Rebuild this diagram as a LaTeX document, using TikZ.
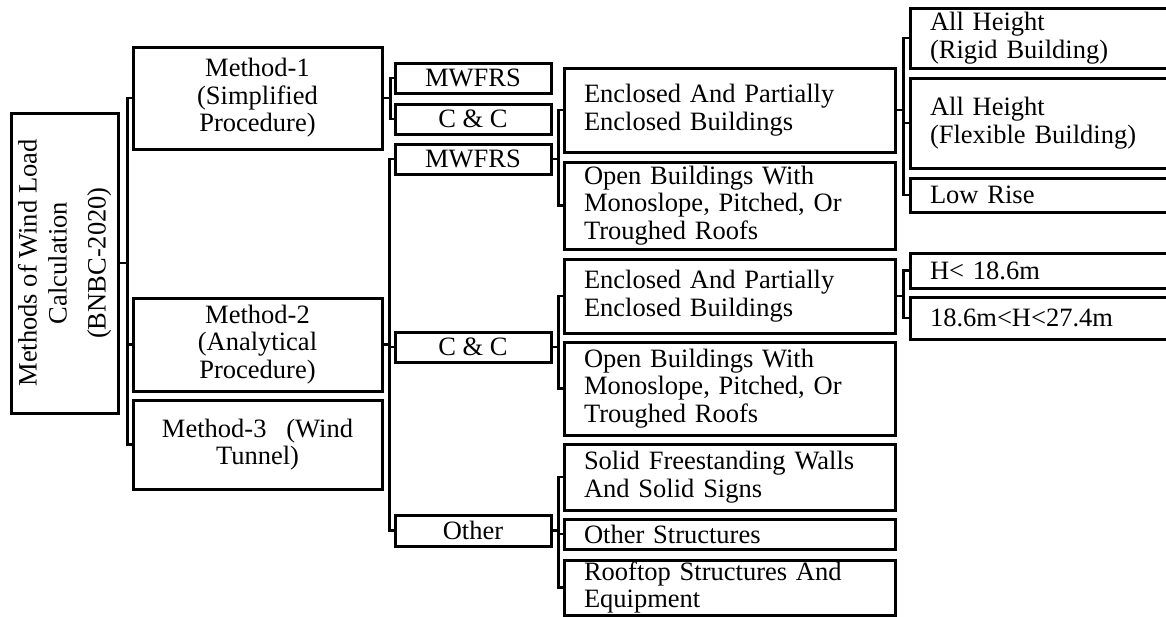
\documentclass[tikz,border=0pt]{standalone}
\usepackage{fontspec}
\setmainfont{Liberation Serif}
\begin{document}
\begin{tikzpicture}[x=1pt,y=-1pt,
  box/.style={draw, line width=3pt, inner sep=0pt, font=\fontsize{26.5}{27.5}\selectfont},
  cbox/.style={box, align=center},
  lbox/.style={box, align=left, inner xsep=20pt},
  link/.style={line width=2.6pt}]
\clip (0,0) rectangle (1166,616);
% root
\node[cbox, rotate=90, minimum width=300, minimum height=107,
  font=\fontsize{26.5}{30}\selectfont] (root) at (64.5,263)
  {Methods of Wind Load\\Calculation\\[9pt](BNBC-2020)};
% level 1
\node[cbox, minimum width=249, minimum height=102] (m1) at (257.5,98) {Method-1\\(Simplified\\Procedure)};
\node[cbox, minimum width=249, minimum height=93] (m2) at (257.5,344.5) {Method-2\\(Analytical\\Procedure)};
\node[cbox, minimum width=249, minimum height=89] (m3) at (257.5,444.5) {Method-3\ \ \ (Wind\\Tunnel)};
% level 2
\node[cbox, minimum width=156, minimum height=30] (mw1) at (473,78) {MWFRS};
\node[cbox, minimum width=156, minimum height=30] (cc1) at (473,119) {C \& C};
\node[cbox, minimum width=156, minimum height=30] (mw2) at (473,159) {MWFRS};
\node[cbox, minimum width=156, minimum height=30] (cc2) at (473,347) {C \& C};
\node[cbox, minimum width=156, minimum height=31] (oth) at (473,530.5) {Other};
% level 3
\node[lbox, text width=291, minimum width=331, minimum height=84] (enc1) at (729.5,110) {Enclosed And Partially\\Enclosed Buildings};
\node[lbox, text width=291, minimum width=331, minimum height=87] (open1) at (729.5,205.5) {Open Buildings With\\Monoslope, Pitched, Or\\Troughed Roofs};
\node[lbox, text width=291, minimum width=331, minimum height=74] (enc2) at (729.5,296) {Enclosed And Partially\\Enclosed Buildings};
\node[lbox, text width=291, minimum width=331, minimum height=93] (open2) at (729.5,388.5) {Open Buildings With\\Monoslope, Pitched, Or\\Troughed Roofs};
\node[lbox, text width=291, minimum width=331, minimum height=66] (solid) at (729.5,477) {Solid Freestanding Walls\\And Solid Signs};
\node[lbox, text width=291, minimum width=331, minimum height=30] (ostr) at (729.5,534) {Other Structures};
\node[lbox, text width=291, minimum width=331, minimum height=55] (roof) at (729.5,587.5) {Rooftop Structures And\\Equipment};
% level 4
\node[lbox, text width=230, minimum width=270, minimum height=60] (rigid) at (1045,38) {All Height\\(Rigid Building)};
\node[lbox, text width=230, minimum width=270, minimum height=90] (flex) at (1045,123) {All Height\\(Flexible Building)};
\node[lbox, text width=230, minimum width=270, minimum height=34] (low) at (1045,195) {Low Rise};
\node[lbox, text width=230, minimum width=270, minimum height=35] (h1) at (1045,270.5) {H< 18.6m};
\node[lbox, text width=230, minimum width=270, minimum height=42] (h2) at (1045,318) {18.6m<H<27.4m};
% connectors
\foreach \c in {m1,m2,m3} \draw[link] (root.south) -- ++(8,0) |- (\c.west);
\foreach \c in {mw1,cc1} \draw[link] (m1.east) -- ++(7,0) |- (\c.west);
\foreach \c in {mw2,cc2,oth} \draw[link] (m2.east) -- ++(6,0) |- (\c.west);
\foreach \c in {enc1,open1} \draw[link] (mw2.east) -- ++(6,0) |- (\c.west);
\foreach \c in {enc2,open2} \draw[link] (cc2.east) -- ++(6,0) |- (\c.west);
\foreach \c in {solid,ostr,roof} \draw[link] (oth.east) -- ++(6,0) |- (\c.west);
\foreach \c in {rigid,flex,low} \draw[link] (enc1.east) -- ++(7,0) |- (\c.west);
\foreach \c in {h1,h2} \draw[link] (enc2.east) -- ++(7,0) |- (\c.west);
\end{tikzpicture}
\end{document}
